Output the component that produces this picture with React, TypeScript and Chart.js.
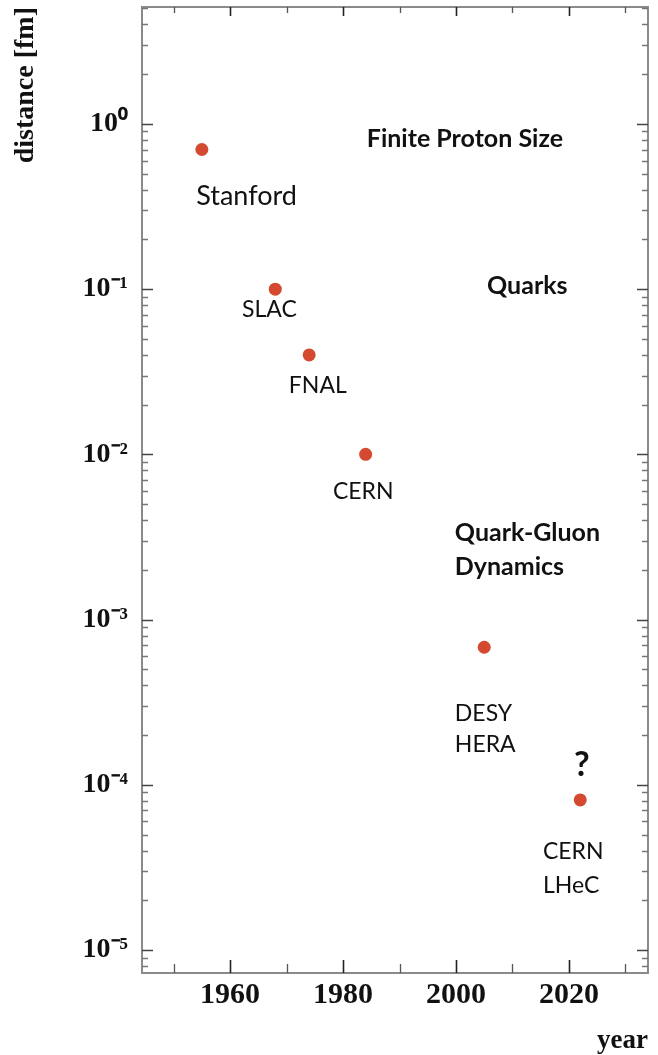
import React, { useEffect, useRef } from 'react';
import { Chart, registerables } from 'chart.js';

Chart.register(...registerables);

// ---- data ----
const labNames = ['Stanford', 'SLAC', 'FNAL', 'CERN', 'DESY HERA', 'CERN LHeC'];
const labYears = [1955, 1968, 1974, 1984, 2005, 2022];
const labDistances = [0.7, 0.1, 0.04, 0.01, 6.8e-4, 8.1e-5];

const yTickValues = [1, 0.1, 0.01, 1e-3, 1e-4, 1e-5];
const yTickLabels = ['10⁰', '10⁻¹', '10⁻²', '10⁻³', '10⁻⁴', '10⁻⁵'];
const xTickValues = [1960, 1980, 2000, 2020];
const xTickLabels = ['1960', '1980', '2000', '2020'];

// annotation texts anchored at (year, distance) of their left edge / vertical middle
const noteTexts = ['Stanford', 'SLAC', 'FNAL', 'CERN', 'DESY', 'HERA', '?', 'CERN', 'LHeC',
  'Finite Proton Size', 'Quarks', 'Quark-Gluon', 'Dynamics'];
const noteYears = [1954.0, 1962.1, 1970.4, 1978.2, 1999.8, 1999.8, 2020.9, 2015.4, 2015.4,
  1984.2, 2005.5, 1999.8, 1999.8];
const noteDistances = [0.367, 0.0748, 0.0259, 0.00592, 2.68e-4, 1.74e-4, 1.32e-4, 3.92e-5, 2.47e-5,
  0.811, 0.105, 3.34e-3, 2.08e-3];
const noteBold = [false, false, false, false, false, false, true, false, false, true, true, true, true];
const noteSizes = [27, 23, 23, 23, 23, 23, 34, 23, 23, 25, 25, 25, 25];

const X_MIN = 1944.4;
const X_MAX = 2034;
const Y_MIN = 7.26e-6;
const Y_MAX = 5.1;

const frameAndNotes = {
  id: 'frameAndNotes',
  afterDatasetsDraw(chart: any) {
    const { ctx, chartArea } = chart;
    const { left, right, top, bottom } = chartArea;
    const xs = chart.scales.x;
    const ys = chart.scales.y;
    ctx.save();
    // frame
    ctx.strokeStyle = '#8a8a8a';
    ctx.lineWidth = 2;
    ctx.strokeRect(left, top, right - left, bottom - top);
    // x ticks (inward, bottom and top)
    for (let yr = 1950; yr <= 2030; yr += 10) {
      const px = Math.round(xs.getPixelForValue(yr)) + 0.5;
      const major = yr % 20 === 0;
      ctx.strokeStyle = major ? '#222' : '#555';
      ctx.lineWidth = major ? 1.6 : 1.3;
      const lb = major ? 13 : 9;
      const lt = major ? 9 : 6;
      ctx.beginPath();
      ctx.moveTo(px, bottom);
      ctx.lineTo(px, bottom - lb);
      ctx.moveTo(px, top);
      ctx.lineTo(px, top + lt);
      ctx.stroke();
    }
    // y ticks (inward, left and right)
    for (let e = -6; e <= 0; e++) {
      for (let m = 1; m <= 9; m++) {
        const v = m * Math.pow(10, e);
        if (v < Y_MIN || v > Y_MAX) continue;
        const py = Math.round(ys.getPixelForValue(v)) + 0.5;
        const major = m === 1;
        ctx.strokeStyle = major ? '#444' : '#777';
        ctx.lineWidth = major ? 1.6 : 1.3;
        const len = major ? 11 : 6;
        ctx.beginPath();
        ctx.moveTo(left, py);
        ctx.lineTo(left + len, py);
        ctx.moveTo(right, py);
        ctx.lineTo(right - len, py);
        ctx.stroke();
      }
    }
    // annotations
    ctx.fillStyle = '#111';
    ctx.textBaseline = 'middle';
    ctx.textAlign = 'left';
    noteTexts.forEach((t, i) => {
      const px = xs.getPixelForValue(noteYears[i]);
      const py = ys.getPixelForValue(noteDistances[i]);
      ctx.font = (noteBold[i] ? 'bold ' : '') + noteSizes[i] + 'px Lato';
      ctx.fillText(t, px, py);
    });
    ctx.restore();
  },
};

export default function App() {
  const canvasRef = useRef<HTMLCanvasElement | null>(null);

  useEffect(() => {
    document.body.style.margin = '0';
    const canvas = canvasRef.current;
    if (!canvas) return;
    const chart = new Chart(canvas, {
      type: 'scatter',
      data: {
        datasets: [
          {
            label: 'distance',
            data: labYears.map((yr, i) => ({ x: yr, y: labDistances[i] })),
            backgroundColor: '#d44a30',
            borderWidth: 0,
            pointRadius: 6.5,
            pointHoverRadius: 6.5,
          },
        ],
      },
      options: {
        animation: false,
        responsive: false,
        maintainAspectRatio: false,
        layout: { padding: { top: 7, right: 10, left: 0, bottom: 0 } },
        plugins: {
          legend: { display: false },
          tooltip: { enabled: false },
        },
        scales: {
          x: {
            type: 'linear',
            min: X_MIN,
            max: X_MAX,
            grid: { display: false, drawTicks: false },
            border: { display: false },
            afterBuildTicks: (scale: any) => {
              scale.ticks = xTickValues.map((v) => ({ value: v }));
            },
            afterFit: (scale: any) => {
              scale.height = 82;
              scale.paddingLeft = 0;
              scale.paddingRight = 0;
              scale.paddingTop = 0;
              scale.paddingBottom = 0;
            },
            ticks: {
              autoSkip: false,
              maxRotation: 0,
              padding: 4,
              color: '#111',
              font: { family: 'Liberation Serif', weight: 'bold', size: 30 },
              callback: (v: any) => {
                const i = xTickValues.indexOf(Number(v));
                return i >= 0 ? xTickLabels[i] : '';
              },
            },
            title: {
              display: true,
              text: 'year',
              align: 'end',
              color: '#111',
              padding: { top: 0, bottom: 0 },
              font: { family: 'Liberation Serif', weight: 'bold', size: 27, lineHeight: 1 },
            },
          },
          y: {
            type: 'logarithmic',
            min: Y_MIN,
            max: Y_MAX,
            grid: { display: false, drawTicks: false },
            border: { display: false },
            afterBuildTicks: (scale: any) => {
              scale.ticks = yTickValues.map((v) => ({ value: v }));
            },
            afterFit: (scale: any) => {
              scale.width = 142;
              scale.paddingLeft = 0;
              scale.paddingRight = 0;
              scale.paddingTop = 0;
              scale.paddingBottom = 0;
            },
            ticks: {
              autoSkip: false,
              padding: 14,
              color: '#111',
              font: { family: 'Liberation Serif', weight: 'bold', size: 28 },
              callback: (v: any) => {
                const i = yTickValues.findIndex((t) => Math.abs(t - Number(v)) / t < 1e-6);
                return i >= 0 ? yTickLabels[i] : '';
              },
            },
            title: {
              display: true,
              text: 'distance [fm]',
              align: 'end',
              color: '#111',
              padding: { top: 12, bottom: 0 },
              font: { family: 'Liberation Serif', weight: 'bold', size: 28, lineHeight: 1 },
            },
          },
        },
      },
      plugins: [frameAndNotes],
    } as any);
    return () => chart.destroy();
  }, []);

  return (
    <div style={{ width: 658, height: 1055, background: '#fff' }}>
      <canvas ref={canvasRef} width={658} height={1055} style={{ display: 'block' }} />
    </div>
  );
}
